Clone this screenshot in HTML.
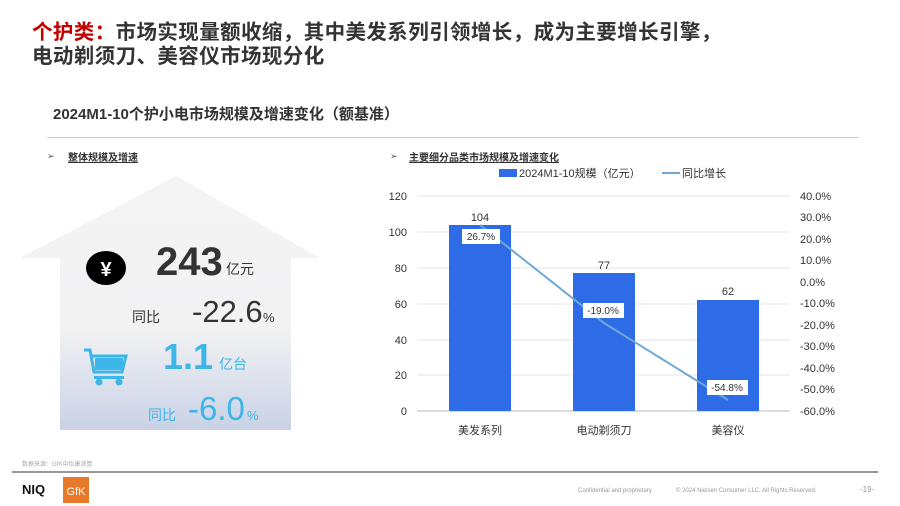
<!DOCTYPE html>
<html><head><meta charset="utf-8"><style>
*{margin:0;padding:0}
body{width:900px;height:506px;background:#fff;position:relative;overflow:hidden;font-family:"Liberation Sans","Noto Sans CJK SC",sans-serif}
.a{position:absolute;white-space:nowrap}
</style></head><body>
<div class="a" style="left:32px;top:21px;font-size:20.5px;font-weight:bold;color:#333;line-height:24px;letter-spacing:0.4px">
<span style="color:#c00000">个护类：</span>市场实现量额收缩，其中美发系列引领增长，成为主要增长引擎，<br>电动剃须刀、美容仪市场现分化</div>
<div class="a" style="left:53px;top:103px;font-size:15px;font-weight:bold;color:#333">2024M1-10个护小电市场规模及增速变化（额基准）</div>
<div class="a" style="left:47px;top:137px;width:812px;height:1px;background:#ccc"></div>
<div class="a" style="left:47px;top:151px;font-size:9px;color:#555">➢</div>
<div class="a" style="left:68px;top:149px;font-size:10px;font-weight:bold;color:#333;text-decoration:underline">整体规模及增速</div>
<div class="a" style="left:390px;top:151px;font-size:9px;color:#555">➢</div>
<div class="a" style="left:409px;top:149px;font-size:10px;font-weight:bold;color:#333;text-decoration:underline">主要细分品类市场规模及增速变化</div>
<svg class="a" style="left:0;top:0" width="900" height="506">
<defs><linearGradient id="g" x1="0" y1="0" x2="0" y2="1"><stop offset="0" stop-color="#f4f4f5"/><stop offset="0.6" stop-color="#f2f2f3"/><stop offset="1" stop-color="#c9d2e6"/></linearGradient></defs>
<path d="M20,258 L176,176 L320,258 L291,258 L291,430 L60,430 L60,258 Z" fill="url(#g)"/>
<ellipse cx="106" cy="268" rx="20" ry="17" fill="#000"/>
<text x="106" y="276" font-size="20" fill="#fff" text-anchor="middle" font-weight="bold">¥</text>
<g fill="#3cb6e8"><path d="M84,350 L90,350 L94,372 L122,372 L126,356 L92,356" stroke="#3cb6e8" stroke-width="3" fill="none"/><rect x="95" y="358" width="28" height="12"/><rect x="94" y="376" width="30" height="3"/><circle cx="99" cy="382" r="3.5"/><circle cx="119" cy="382" r="3.5"/></g>
<text x="156" y="275" font-size="40" font-weight="bold" fill="#333">243</text>
<text x="226" y="274" font-size="14" fill="#333">亿元</text>
<text x="132" y="322" font-size="14" fill="#333">同比</text>
<text x="192" y="322" font-size="31" fill="#333">-22.6</text>
<text x="263" y="322" font-size="13" fill="#333">%</text>
<text x="163" y="369" font-size="36" font-weight="bold" fill="#3cb6e8">1.1</text>
<text x="219" y="369" font-size="14" fill="#3cb6e8">亿台</text>
<text x="148" y="420" font-size="14" fill="#3cb6e8">同比</text>
<text x="188" y="420" font-size="33" fill="#3cb6e8">-6.0</text>
<text x="247" y="420" font-size="13" fill="#3cb6e8">%</text>
<g stroke="#e6e6e6" stroke-width="1">
<line x1="417" y1="196" x2="790" y2="196"/><line x1="417" y1="232" x2="790" y2="232"/><line x1="417" y1="268" x2="790" y2="268"/><line x1="417" y1="304" x2="790" y2="304"/><line x1="417" y1="340" x2="790" y2="340"/><line x1="417" y1="375" x2="790" y2="375"/></g>
<line x1="417" y1="411" x2="790" y2="411" stroke="#bbb"/>
<g font-size="11" fill="#333" text-anchor="end">
<text x="407" y="200">120</text><text x="407" y="236">100</text><text x="407" y="272">80</text><text x="407" y="308">60</text><text x="407" y="344">40</text><text x="407" y="379">20</text><text x="407" y="415">0</text></g>
<g font-size="11" fill="#333">
<text x="800" y="200">40.0%</text><text x="800" y="221">30.0%</text><text x="800" y="243">20.0%</text><text x="800" y="264">10.0%</text><text x="800" y="286">0.0%</text><text x="800" y="307">-10.0%</text><text x="800" y="329">-20.0%</text><text x="800" y="350">-30.0%</text><text x="800" y="372">-40.0%</text><text x="800" y="393">-50.0%</text><text x="800" y="415">-60.0%</text></g>
<g fill="#2e6be6"><rect x="449" y="225" width="62" height="186"/><rect x="573" y="273" width="62" height="138"/><rect x="697" y="300" width="62" height="111"/></g>
<g font-size="11" fill="#333" text-anchor="middle"><text x="480" y="221">104</text><text x="604" y="269">77</text><text x="728" y="295">62</text>
<text x="480" y="434">美发系列</text><text x="604" y="434">电动剃须刀</text><text x="728" y="434">美容仪</text></g>
<polyline points="480,225 604,323 728,400" fill="none" stroke="#6fa8d4" stroke-width="2"/>
<g font-size="10" fill="#333" text-anchor="middle">
<rect x="462" y="229" width="38" height="15" fill="#fff"/><text x="481" y="240">26.7%</text>
<rect x="583" y="303" width="41" height="15" fill="#fff"/><text x="603" y="314">-19.0%</text>
<rect x="707" y="380" width="41" height="15" fill="#fff"/><text x="727" y="391">-54.8%</text></g>
<rect x="499" y="169" width="18" height="8" fill="#2e6be6"/>
<text x="519" y="177" font-size="11" fill="#333">2024M1-10规模（亿元）</text>
<line x1="662" y1="173" x2="680" y2="173" stroke="#6fa8d4" stroke-width="2"/>
<text x="682" y="177" font-size="11" fill="#333">同比增长</text>
<text x="22" y="466" font-size="6" fill="#aaa">数据来源：GfK中怡康测算</text>
<line x1="12" y1="472" x2="878" y2="472" stroke="#777" stroke-width="1.5"/>
<text x="22" y="494" font-size="13" font-weight="bold" fill="#111">NIQ</text>
<rect x="63" y="477" width="26" height="26" fill="#e8782a"/>
<text x="76" y="495" font-size="11" fill="#fff" text-anchor="middle">GfK</text>
<text x="578" y="492" font-size="6" fill="#999">Confidential and proprietary</text>
<text x="676" y="492" font-size="6" fill="#999">© 2024 Nielsen Consumer LLC. All Rights Reserved.</text>
<text x="860" y="492" font-size="8" fill="#999">-19-</text>
</svg>
</body></html>
